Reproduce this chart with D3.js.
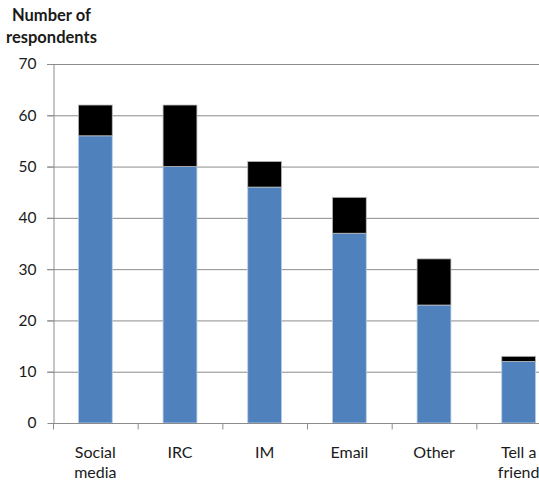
<!DOCTYPE html>
<html><head><meta charset="utf-8">
<script src="https://cdn.jsdelivr.net/npm/d3@7"></script>
<style>body{margin:0;background:#fff}svg{display:block}text{font-family:Lato,"Open Sans",sans-serif}</style>
</head><body>
<script>
const categories = ["Social media","IRC","IM","Email","Other","Tell a friend"];
const series1 = [56,50,46,37,23,12];
const totals = [62,62,51,44,32,13];
const yTicks = [0,10,20,30,40,50,60,70];
const titleLines = ["Number of","respondents"];

(function(){
const W=539,H=483;
const svg=d3.select("body").append("svg").attr("width",W).attr("height",H);
const pLeft=53, pRight=561, pTop=64, pBottom=423;
const x=d3.scaleBand().domain(categories).range([pLeft,pRight]).paddingInner(0.6).paddingOuter(0.3);
const y=d3.scaleLinear().domain([0,70]).range([pBottom,pTop]);

svg.append("g").selectAll("line").data(yTicks.filter(d=>d>0)).join("line")
  .attr("x1",pLeft-6).attr("x2",W).attr("y1",d=>y(d)+0.5).attr("y2",d=>y(d)+0.5)
  .attr("stroke","#8c8c8c").attr("stroke-width",1);

const data=categories.map((c,i)=>({c,a:series1[i],t:totals[i]}));
const g=svg.append("g");
g.selectAll("rect.b").data(data).join("rect").attr("class","b")
  .attr("x",d=>x(d.c)).attr("width",x.bandwidth())
  .attr("y",d=>y(d.a)).attr("height",d=>y(0)-y(d.a))
  .attr("fill","#4f81bd").attr("stroke","#b9cde5").attr("stroke-width",0.8);
g.selectAll("rect.k").data(data).join("rect").attr("class","k")
  .attr("x",d=>x(d.c)).attr("width",x.bandwidth())
  .attr("y",d=>y(d.t)).attr("height",d=>y(d.a)-y(d.t))
  .attr("fill","#000").attr("stroke","#bbbbbb").attr("stroke-width",0.8);

const ya=svg.append("g").attr("transform",`translate(${pLeft+0.5},0)`)
  .call(d3.axisLeft(y).tickValues(yTicks).tickSize(6).tickPadding(11).tickSizeOuter(0));
ya.select(".domain").attr("stroke","#8c8c8c");
ya.selectAll(".tick line").attr("stroke","#8c8c8c");
ya.selectAll(".tick text").attr("font-size",15.5).attr("fill","#1a1a1a").attr("font-family","Lato");

const xa=svg.append("g").attr("transform",`translate(0,${pBottom+0.5})`);
xa.append("line").attr("x1",pLeft).attr("x2",W).attr("stroke","#8c8c8c");
const bandStep=x.step();
const tickPos=d3.range(categories.length).map(i=>pLeft+i*bandStep);
xa.selectAll("line.t").data(tickPos).join("line").attr("class","t")
  .attr("x1",d=>d+0.5).attr("x2",d=>d+0.5).attr("y1",0).attr("y2",6).attr("stroke","#8c8c8c");
const words={"Social media":["Social","media"],"Tell a friend":["Tell a","friend"]};
categories.forEach(c=>{
  const lines=words[c]||[c];
  const cx=x(c)+x.bandwidth()/2;
  const t=svg.append("text").attr("x",cx).attr("y",458)
    .attr("text-anchor","middle").attr("font-size",16).attr("fill","#1a1a1a");
  lines.forEach((l,i)=>t.append("tspan").attr("x",cx).attr("dy",i?20:0).text(l));
});

svg.append("text").attr("y",21).attr("font-size",16.5).attr("font-weight","bold")
  .attr("fill","#1a1a1a").selectAll("tspan").data(titleLines).join("tspan")
  .attr("x",(d,i)=>i?6:12).attr("dy",(d,i)=>i?22:0).text(d=>d);
})();
</script>
</body></html>
